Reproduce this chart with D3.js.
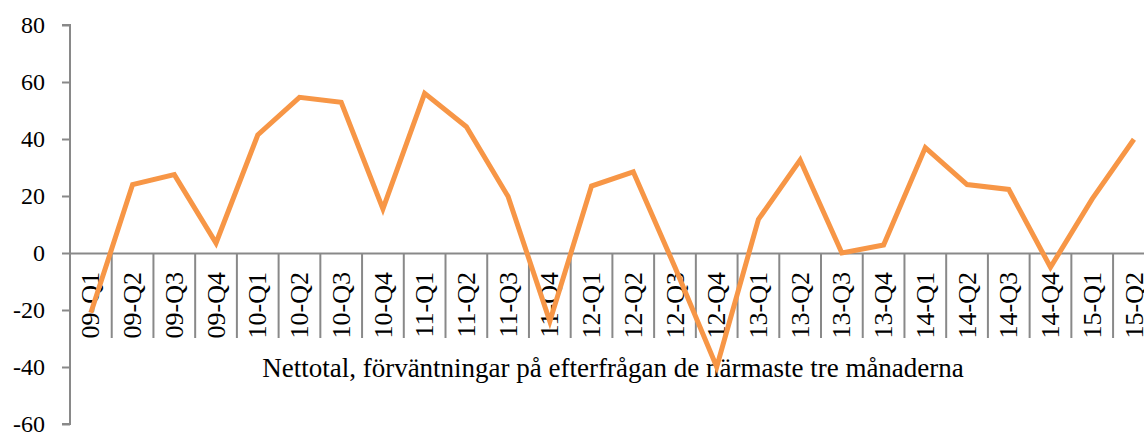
<!DOCTYPE html>
<html>
<head>
<meta charset="utf-8">
<script src="https://cdn.jsdelivr.net/npm/d3@7"></script>
<style>
  body { margin: 0; background: #fff; }
  svg text { font-family: "Liberation Serif", "DejaVu Serif", serif; fill: #000; }
</style>
</head>
<body>
<div id="chart"></div>
<script>
var svgWidth = 1144;
var svgHeight = 432;

// data
var quarters = ["09-Q1", "09-Q2", "09-Q3", "09-Q4", "10-Q1", "10-Q2", "10-Q3", "10-Q4",
  "11-Q1", "11-Q2", "11-Q3", "11-Q4", "12-Q1", "12-Q2", "12-Q3", "12-Q4",
  "13-Q1", "13-Q2", "13-Q3", "13-Q4", "14-Q1", "14-Q2", "14-Q3", "14-Q4",
  "15-Q1", "15-Q2"];
var nettotal = [-21, 24, 27.5, 3.5, 41.4, 54.6, 52.9, 15.5,
  56, 44.3, 19.8, -24, 23.5, 28.5, -5, -40,
  11.8, 32.6, 0, 2.8, 37, 24, 22.3, -5,
  19, 39.9];
var yTicks = [-60, -40, -20, 0, 20, 40, 60, 80];
var axisTitle = "Nettotal, förväntningar på efterfrågan de närmaste tre månaderna";

var svg = d3.select("#chart")
  .append("svg")
  .attr("width", svgWidth)
  .attr("height", svgHeight);

var x = d3.scaleBand()
  .domain(quarters)
  .range([70, 1154.8]);

var y = d3.scaleLinear()
  .domain([-60, 80])
  .range([424, 25]);

var grey = "#898989";

// y axis
var leftAxis = d3.axisLeft(y)
  .tickValues(yTicks)
  .tickSize(8)
  .tickPadding(17)
  .tickFormat(d => String(d));

var yAxisG = svg.append("g")
  .attr("transform", "translate(70,0)")
  .call(leftAxis);
yAxisG.select(".domain").attr("stroke", grey).attr("stroke-width", 2)
  .attr("d", "M-8," + y(80) + "H0V" + y(-60) + "H-8");
yAxisG.selectAll(".tick line").attr("stroke", grey).attr("stroke-width", 2);
yAxisG.selectAll(".tick text")
  .style("font-size", "24px")
  .style("font-family", "'Liberation Serif', serif")
  .attr("fill", "#000")
  .attr("dy", "0.3em");

// category axis on the zero line
var bottomAxis = d3.axisBottom(x)
  .tickSize(0)
  .tickSizeOuter(0);

var xAxisG = svg.append("g")
  .attr("transform", "translate(0," + y(0) + ")")
  .call(bottomAxis);
xAxisG.select(".domain").attr("stroke", grey).attr("stroke-width", 2);
xAxisG.selectAll(".tick text")
  .style("font-size", "26px")
  .style("font-family", "'Liberation Serif', serif")
  .attr("fill", "#000")
  .attr("text-anchor", "end")
  .attr("transform", "rotate(-90)")
  .attr("x", -19)
  .attr("y", 0)
  .attr("dy", "0.33em");

// dividers between categories
var bounds = quarters.map(d => x(d)).concat([x.range()[1]]);
xAxisG.selectAll(".divider")
  .data(bounds)
  .enter()
  .append("line")
  .attr("class", "divider")
  .attr("x1", d => d)
  .attr("x2", d => d)
  .attr("y1", 0)
  .attr("y2", 85)
  .attr("stroke", grey)
  .attr("stroke-width", 2);

// axis title
svg.append("text")
  .attr("x", 613)
  .attr("y", 377)
  .attr("text-anchor", "middle")
  .style("font-size", "27px")
  .text(axisTitle);

// line
var line = d3.line()
  .x((d, i) => x(quarters[i]) + x.bandwidth() / 2)
  .y(d => y(d));

svg.append("path")
  .datum(nettotal)
  .attr("d", line)
  .attr("fill", "none")
  .attr("stroke", "#F79646")
  .attr("stroke-width", 5)
  .attr("stroke-linejoin", "miter");
</script>
</body>
</html>
